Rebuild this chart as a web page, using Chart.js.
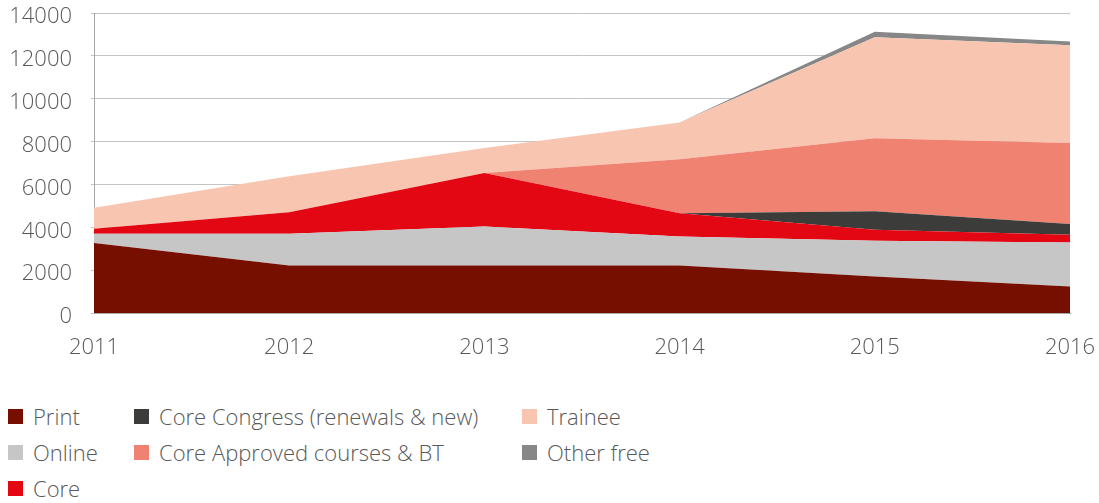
<!DOCTYPE html>
<html>
<head>
<meta charset="utf-8">
<script src="https://cdn.jsdelivr.net/npm/chart.js@4.4.0/dist/chart.umd.min.js"></script>
<style>
  html, body { margin: 0; padding: 0; background: #fff; }
  #wrap { position: relative; width: 1099px; height: 503px; }
  #myChart { position: absolute; left: 0; top: 0; }
  .item {
    position: absolute; height: 30px; display: flex; align-items: center;
    font-family: 'Open Sans', sans-serif; font-weight: 300; font-size: 22px; color: #595959;
    white-space: nowrap;
  }
  .item span.box { display: inline-block; width: 15px; height: 15px; margin-right: 10px; }
</style>
</head>
<body>
<div id="wrap">
  <canvas id="myChart" width="1099" height="368"></canvas>
  <div id="legend"></div>
</div>
<script>
// Data
const years = ['2011', '2012', '2013', '2014', '2015', '2016'];
const print = [3270, 2220, 2220, 2220, 1700, 1240];
const online = [430, 1480, 1820, 1350, 1670, 2050];
const core = [230, 1000, 2490, 1090, 510, 360];
const coreCongress = [0, 0, 0, 0, 870, 500];
const coreApproved = [0, 0, 0, 2520, 3410, 3780];
const trainee = [980, 1680, 1170, 1710, 4710, 4570];
const otherFree = [0, 0, 0, 0, 250, 170];

const seriesNames = ['Print', 'Online', 'Core', 'Core Congress (renewals & new)', 'Core Approved courses & BT', 'Trainee', 'Other free'];
const seriesData = [print, online, core, coreCongress, coreApproved, trainee, otherFree];
const colors = ['#760f00', '#c6c6c6', '#e30613', '#3c3c3b', '#f08272', '#f8c5b0', '#878787'];

const tickFont = { family: "'Open Sans', sans-serif", size: 22, weight: 300 };

const ctx = document.getElementById('myChart').getContext('2d');

new Chart(ctx, {
    type: 'line',
    data: {
        labels: years,
        datasets: seriesNames.map((name, i) => ({
            label: name,
            data: seriesData[i],
            backgroundColor: colors[i],
            borderColor: colors[i],
            borderWidth: 0,
            pointRadius: 0,
            tension: 0,
            fill: i === 0 ? 'origin' : '-1'
        }))
    },
    options: {
        responsive: false,
        animation: false,
        devicePixelRatio: 1,
        layout: { padding: { top: 13, right: 29, left: 0, bottom: 0 } },
        plugins: {
            legend: { display: false },
            tooltip: { enabled: false }
        },
        scales: {
            x: {
                offset: false,
                grid: { display: false, drawTicks: false },
                border: { color: '#a6a6a6', width: 1 },
                ticks: { font: tickFont, color: '#595959', padding: 22, maxRotation: 0 },
                afterFit: scale => {
                    scale.height = 55;
                    scale.paddingLeft = 0;
                    scale.paddingRight = 0;
                }
            },
            y: {
                stacked: true,
                min: 0,
                max: 14000,
                grid: { color: '#c4c4c4', lineWidth: 1, tickLength: 3 },
                border: { color: '#a6a6a6', width: 1 },
                ticks: {
                    stepSize: 2000, font: tickFont, color: '#595959', padding: 19, labelOffset: 4,
                    callback: v => String(v)
                },
                afterFit: scale => {
                    scale.width = 94;
                    scale.paddingTop = 0;
                    scale.paddingBottom = 0;
                }
            }
        }
    }
});

// Legend (three rows, filled column by column)
const legendCols = [8, 134, 522];
const legend = document.getElementById('legend');
seriesNames.forEach((name, i) => {
    const col = i < 3 ? 0 : (i < 5 ? 1 : 2);
    const row = i < 3 ? i : (i < 5 ? i - 3 : i - 5);
    const div = document.createElement('div');
    div.className = 'item';
    div.style.left = legendCols[col] + 'px';
    div.style.top = (401 + row * 36) + 'px';
    div.innerHTML = '<span class="box" style="background:' + colors[i] + '"></span>' + name.replace('&', '&amp;');
    legend.appendChild(div);
});
</script>
</body>
</html>
